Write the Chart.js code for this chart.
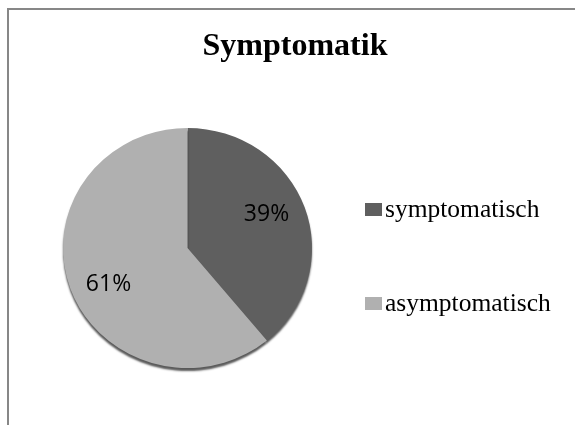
<!DOCTYPE html>
<html>
<head>
<meta charset="utf-8">
<script src="https://cdn.jsdelivr.net/npm/chart.js@4"></script>
<style>
  html, body { margin: 0; padding: 0; background: #fff; overflow: hidden; }
  #wrap { position: relative; width: 575px; height: 425px; overflow: hidden; }
  #frame { position: absolute; left: 7px; top: 8px; width: 600px; height: 450px;
           border-top: 2px solid #878787; border-left: 2px solid #878787; }
  #wrap canvas { position: absolute; left: 0; top: 0; }
</style>
</head>
<body>
<div id="wrap"><div id="frame"></div><canvas id="myChart"></canvas></div>
<script>
// data
const labels = ['symptomatisch', 'asymptomatisch'];
const values = [39, 61];
const colors = ['#5f5f5f', '#b0b0b0'];
const titleText = 'Symptomatik';

const stretch = 1.0375;   // pie is a bit wider than tall in the picture
const serif = "'Liberation Serif', 'Times New Roman', serif";

const pieLook = {
  id: 'pieLook',
  afterLayout(chart) {
    // title is centred on the whole frame, not only on the pie area
    const t = chart.titleBlock;
    t.left = 15;
    t.right = chart.width;
    t.width = t.right - t.left;
  },
  beforeDatasetsDraw(chart) {
    const ctx = chart.ctx;
    const arc = chart.getDatasetMeta(0).data[0];
    ctx.save();
    ctx.translate(arc.x, arc.y);
    ctx.scale(stretch, 1);
    ctx.translate(-arc.x, -arc.y);
    ctx.shadowColor = 'rgba(0,0,0,0.65)';
    ctx.shadowOffsetY = 3;
    ctx.shadowBlur = 2;
  },
  afterDatasetsDraw(chart) {
    const ctx = chart.ctx;
    ctx.restore();
    const total = values.reduce((a, b) => a + b, 0);
    ctx.save();
    ctx.font = "23px 'Open Sans', 'Liberation Sans', sans-serif";
    ctx.fillStyle = '#000';
    ctx.textAlign = 'center';
    ctx.textBaseline = 'alphabetic';
    chart.getDatasetMeta(0).data.forEach((arc, i) => {
      const p = arc.getProps(['x', 'y', 'startAngle', 'endAngle', 'outerRadius'], true);
      const mid = (p.startAngle + p.endAngle) / 2 - 0.09;
      const r = p.outerRadius * 0.70;
      const tx = p.x + Math.cos(mid) * r * stretch;
      const ty = p.y + Math.sin(mid) * r;
      ctx.fillText(Math.round(values[i] / total * 100) + '%', tx, ty + 8);
    });
    ctx.restore();
  },
  afterDraw(chart) {
    // legend on the right
    const ctx = chart.ctx;
    ctx.save();
    ctx.font = '25.5px ' + serif;
    ctx.textBaseline = 'alphabetic';
    ctx.textAlign = 'left';
    labels.forEach((lab, i) => {
      const y = 203 + i * 94;
      ctx.fillStyle = colors[i];
      ctx.fillRect(365, y, 17, 13);
      ctx.fillStyle = '#000';
      ctx.fillText(lab, 385, y + 14);
    });
    ctx.restore();
  }
};

const ctx = document.getElementById('myChart');

new Chart(ctx, {
  type: 'pie',
  data: {
    labels: labels,
    datasets: [{
      data: values,
      backgroundColor: colors,
      borderWidth: 0,
      clip: false
    }]
  },
  options: {
    responsive: true,
    maintainAspectRatio: false,
    animation: false,
    layout: {
      padding: { top: 18, left: 15, right: 215, bottom: 57 }
    },
    plugins: {
      legend: { display: false },
      tooltip: { enabled: false },
      title: {
        display: true,
        text: titleText,
        color: '#000',
        font: { family: serif, size: 32, weight: 'bold' },
        padding: { top: 10, bottom: 61.6 }
      }
    }
  },
  plugins: [pieLook]
});
</script>
</body>
</html>
